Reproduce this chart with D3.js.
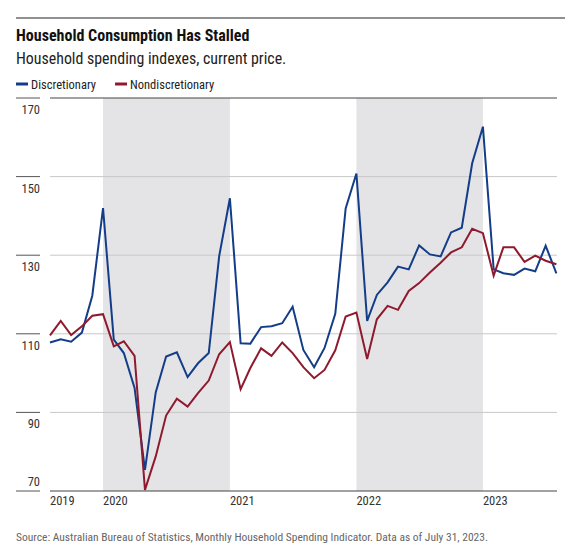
<!DOCTYPE html>
<html>
<head>
<meta charset="utf-8">
<script src="https://cdn.jsdelivr.net/npm/d3@7"></script>
<style>
  body { margin: 0; background: #fff; }
  svg text { font-family: "Liberation Sans Narrow", "Roboto Condensed", "DejaVu Sans Condensed", "Liberation Sans", sans-serif; font-stretch: condensed; }
  .title { font-size: 16px; font-weight: bold; fill: #111; }
  .subtitle { font-size: 15.9px; fill: #222; }
  .legend-label { font-size: 12.5px; fill: #222; }
  .tick-label { font-size: 12.5px; fill: #333; }
  .source { font-size: 11.5px; fill: #666; }
</style>
</head>
<body>
<div id="chart"></div>
<script>
// monthly, Jul 2019 .. Jul 2023
const months = d3.range(49).map((i) => d3.timeFormat('%Y-%m')(new Date(2019, 6 + i, 1)));
const discretionary = [
  107.8, 108.6, 108.0, 110.3, 119.7, 142.0, 108.5, 105.1, 96.2, 75.4, 95.1, 104.2,
  105.3, 99.0, 102.5, 105.1, 129.7, 144.5, 107.6, 107.5, 111.7, 111.9, 112.7, 116.9,
  105.9, 101.5, 106.4, 115.1, 141.9, 150.8, 113.3, 119.9, 123.1, 127.1, 126.4, 132.5,
  130.2, 129.7, 135.8, 137.0, 153.4, 162.7, 126.4, 125.4, 125.0, 126.6, 125.9, 132.4,
  125.4
];
const nondiscretionary = [
  109.6, 113.3, 109.7, 111.9, 114.6, 115.0, 106.8, 108.1, 104.4, 70.3, 78.8, 89.2,
  93.5, 91.5, 94.9, 98.1, 104.8, 107.9, 95.9, 101.3, 106.3, 104.4, 107.8, 105.1,
  101.5, 98.7, 100.8, 105.8, 114.4, 115.4, 103.6, 113.7, 117.1, 116.1, 120.9, 122.9,
  125.6, 128.1, 130.7, 132.0, 136.7, 135.6, 124.8, 132.0, 132.0, 128.3, 129.9, 128.6,
  127.7
];
const yTicks = [70, 90, 110, 130, 150, 170];
const years = [2019, 2020, 2021, 2022, 2023];
const shadedYears = [2020, 2022];
const series = [
  { name: 'Discretionary', values: discretionary, color: '#133d88' },
  { name: 'Nondiscretionary', values: nondiscretionary, color: '#8e1a2e' }
];

const width = 581;
const height = 556;
const margin = { top: 98, right: 24, bottom: 65, left: 50 };

const svg = d3.select('#chart').append('svg').attr('width', width).attr('height', height);

// points sit at month end (start of the following month)
const parse = d3.timeParse('%Y-%m');
const dates = months.map((m) => d3.timeMonth.offset(parse(m), 1));

const x = d3.scaleTime()
  .domain(d3.extent(dates))
  .range([margin.left, width - margin.right - 0.6]);
const y = d3.scaleLinear()
  .domain([70, 170])
  .range([height - margin.bottom, margin.top]);

// header
svg.append('line').attr('x1', 16).attr('x2', 565).attr('y1', 18).attr('y2', 18)
  .attr('stroke', '#222').attr('stroke-width', 1.2);
svg.append('text').attr('class', 'title').attr('x', 16).attr('y', 41).text('Household Consumption Has Stalled');
svg.append('text').attr('class', 'subtitle').attr('x', 16).attr('y', 64).text('Household spending indexes, current price.');

const legend = svg.append('g');
let lx = 16;
series.forEach((s) => {
  legend.append('line').attr('x1', lx).attr('x2', lx + 12).attr('y1', 84).attr('y2', 84)
    .attr('stroke', s.color).attr('stroke-width', 3);
  const t = legend.append('text').attr('class', 'legend-label').attr('x', lx + 15).attr('y', 88.5).text(s.name);
  lx += 15 + t.node().getComputedTextLength() + 19;
});

// shaded years
svg.append('g').selectAll('rect')
  .data(shadedYears)
  .join('rect')
  .attr('x', (d) => x(new Date(d, 0, 1)))
  .attr('width', (d) => x(new Date(d + 1, 0, 1)) - x(new Date(d, 0, 1)))
  .attr('y', margin.top)
  .attr('height', height - margin.bottom - margin.top)
  .attr('fill', '#e4e4e6');

// y grid and labels
const yAxis = svg.append('g');
yAxis.selectAll('line.grid')
  .data(yTicks.filter((d) => d !== 70))
  .join('line')
  .attr('class', 'grid')
  .attr('x1', margin.left).attr('x2', width - margin.right)
  .attr('y1', (d) => y(d)).attr('y2', (d) => y(d))
  .attr('stroke', (d) => (d === 170 ? '#444' : '#c8c8c8'))
  .attr('stroke-width', 1);
yAxis.selectAll('line.stub')
  .data(yTicks)
  .join('line')
  .attr('class', 'stub')
  .attr('x1', 16).attr('x2', 40)
  .attr('y1', (d) => y(d)).attr('y2', (d) => y(d))
  .attr('stroke', '#555').attr('stroke-width', 1);
yAxis.selectAll('text')
  .data(yTicks)
  .join('text')
  .attr('class', 'tick-label')
  .attr('x', 40)
  .attr('y', (d) => (d === 70 ? y(d) - 5 : y(d) + 16))
  .attr('text-anchor', 'end')
  .text((d) => d);

// x axis
svg.append('line')
  .attr('x1', margin.left).attr('x2', width - margin.right)
  .attr('y1', y(70)).attr('y2', y(70))
  .attr('stroke', '#444').attr('stroke-width', 1.2);
svg.append('g').selectAll('text')
  .data(years)
  .join('text')
  .attr('class', 'tick-label')
  .attr('x', (d) => Math.max(margin.left, x(new Date(d, 0, 1))))
  .attr('y', 505)
  .text((d) => d);

// lines
const line = d3.line()
  .x((d, i) => x(dates[i]))
  .y((d) => y(d));
svg.append('g').selectAll('path')
  .data(series)
  .join('path')
  .attr('d', (s) => line(s.values))
  .attr('fill', 'none')
  .attr('stroke', (s) => s.color)
  .attr('stroke-width', 2)
  .attr('stroke-linejoin', 'miter');

svg.append('text').attr('class', 'source').attr('x', 16).attr('y', 541)
  .text('Source: Australian Bureau of Statistics, Monthly Household Spending Indicator. Data as of July 31, 2023.');
</script>
</body>
</html>
